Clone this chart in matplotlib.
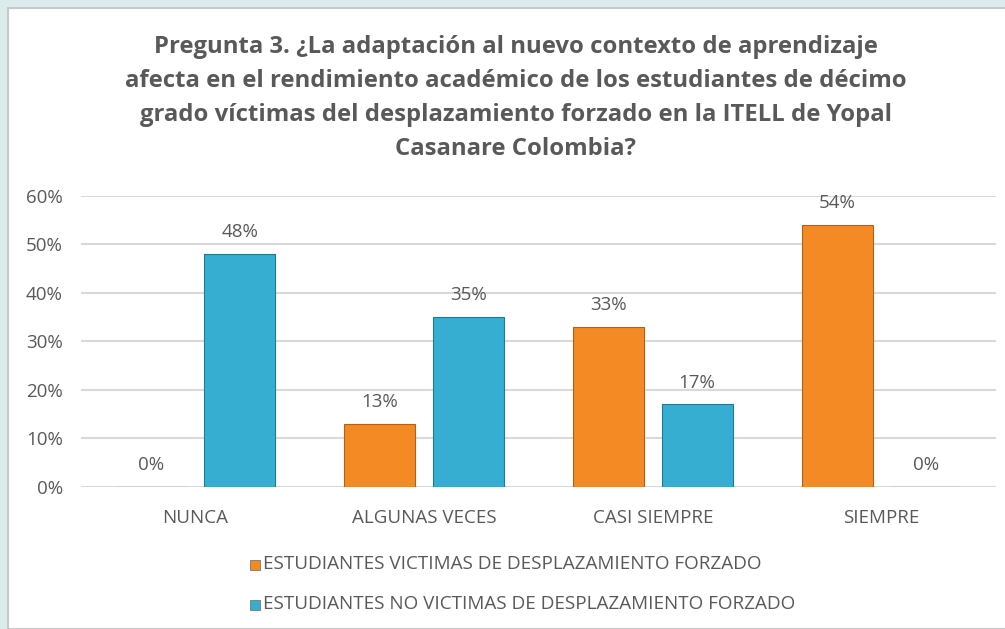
#!/usr/bin/env python3
"""Pregunta 3 bar chart."""

import numpy as np
import matplotlib.pyplot as plt
from matplotlib.patches import Rectangle

categories = ["NUNCA", "ALGUNAS VECES", "CASI SIEMPRE", "SIEMPRE"]
victimas = [0.00, 0.13, 0.33, 0.54]
no_victimas = [0.48, 0.35, 0.17, 0.00]
series_names = [
    "ESTUDIANTES VICTIMAS DE DESPLAZAMIENTO FORZADO",
    "ESTUDIANTES NO VICTIMAS DE DESPLAZAMIENTO FORZADO",
]
yticks = [0.0, 0.1, 0.2, 0.3, 0.4, 0.5, 0.6]

title = ("Pregunta 3. ¿La adaptación al nuevo contexto de aprendizaje\n"
         "afecta en el rendimiento académico de los estudiantes de décimo\n"
         "grado víctimas del desplazamiento forzado en la ITELL de Yopal\n"
         "Casanare Colombia?")

text_color = "#595959"
orange = "#F38A24"
teal = "#35AED2"
font = ["Open Sans", "DejaVu Sans"]
plt.rcParams["font.family"] = font

fig = plt.figure(figsize=(10.05, 6.29), dpi=100, facecolor="#dcecec")
# white chart panel behind everything
fig.patches.append(Rectangle((8 / 1005, 0), 1, 1 - 8 / 629, transform=fig.transFigure,
                             facecolor="white", edgecolor="#c8c8c8", linewidth=1.5, zorder=-5))

ax = fig.add_axes([0.0806, 0.2265, 0.9104, 0.4623])
ax.set_facecolor("none")

x = np.arange(len(categories))
w = 0.31
off = 0.1935
b1 = ax.bar(x - off, victimas, w, color=orange, edgecolor="#b0601a", linewidth=0.8, zorder=3)
b2 = ax.bar(x + off, no_victimas, w, color=teal, edgecolor="#1f7a95", linewidth=0.8, zorder=3)

for bars, vals in ((b1, victimas), (b2, no_victimas)):
    for rect, v in zip(bars, vals):
        ax.annotate(f"{v:.0%}", (rect.get_x() + rect.get_width() / 2, v),
                    xytext=(0, 9), textcoords="offset points", ha="center", va="bottom",
                    fontsize=13.5, color=text_color)

ax.set_xlim(-0.5, len(categories) - 0.5)
ax.set_ylim(0, 0.6)
ax.set_yticks(yticks)
ax.set_yticklabels([f"{t:.0%}" for t in yticks], fontsize=13.5, color=text_color)
ax.set_xticks(x)
ax.set_xticklabels(categories, fontsize=13.5, color=text_color)
ax.tick_params(length=0, pad=13)
ax.tick_params(axis="x", pad=16)
ax.grid(axis="y", color="#d9d9d9", linewidth=1.5, zorder=0)
for s in ax.spines.values():
    s.set_visible(False)

fig.text(0.513, 0.944, title, ha="center", va="top", fontsize=17.2, fontweight="bold",
         color=text_color, linespacing=1.56)

# legend stacked vertically below the axes
for i, (name, col) in enumerate(zip(series_names, [orange, teal])):
    y = 1 - (564 + 40 * i) / 629
    fig.patches.append(Rectangle((250 / 1005, y - 0.009), 10 / 1005, 10 / 629,
                                 transform=fig.transFigure, facecolor=col,
                                 edgecolor="#777777", linewidth=0.6))
    fig.text(263 / 1005, y, name, ha="left", va="center", fontsize=13.6, color=text_color)

fig.savefig("out.png", dpi=100, facecolor=fig.get_facecolor())
